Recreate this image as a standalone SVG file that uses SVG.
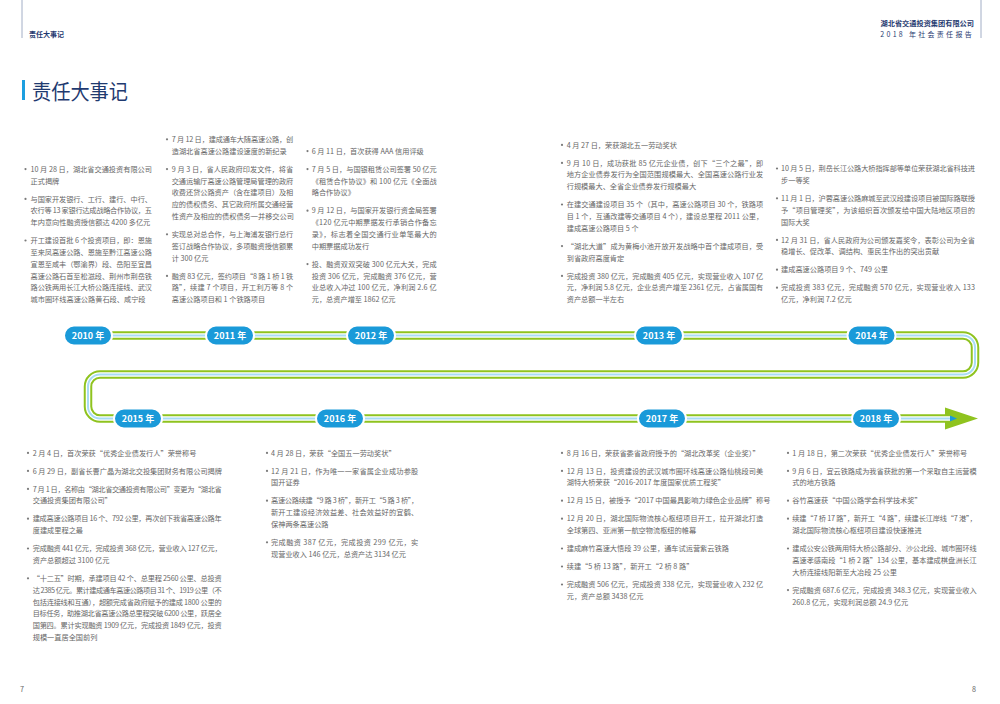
<svg xmlns="http://www.w3.org/2000/svg" xmlns:xlink="http://www.w3.org/1999/xlink" width="1000" height="704" viewBox="0 0 1000 704">
<style>
.t{font-family:"Noto Sans CJK SC","Noto Sans",sans-serif;font-size:7.2px;fill:#666}
.d{fill:#7a7a7a}
.pill{fill:#1a9ad9;stroke:#fff;stroke-width:2}
.pt{font-family:"Noto Sans CJK SC","Noto Sans",sans-serif;font-size:9px;font-weight:700;fill:#fff;text-anchor:middle}
.hd{font-family:"Noto Sans CJK SC","Noto Sans",sans-serif;fill:#1f3a70}
.rg{fill:none;stroke:#8fc31f;stroke-width:8.5}
.rw{fill:none;stroke:#fff;stroke-width:4.5}
.rb{fill:none;stroke:#a8dcf4;stroke-width:2}
</style>
<rect width="1000" height="704" fill="#fff"/>
<g id="header">
<line x1="22" y1="0" x2="22" y2="38" stroke="#8a9bb8" stroke-width="0.8"/>
<line x1="981" y1="0" x2="981" y2="38" stroke="#8a9bb8" stroke-width="0.8"/>
<text class="hd" x="29" y="36.5" font-size="7" font-weight="700" textLength="35" lengthAdjust="spacingAndGlyphs">责任大事记</text>
<text class="hd" x="974" y="26" font-size="7.2" font-weight="700" text-anchor="end">湖北省交通投资集团有限公司</text>
<text class="hd" x="974" y="36.5" font-size="7" text-anchor="end" letter-spacing="2.3">2018 年社会责任报告</text>
<rect x="22" y="80" width="3" height="20" fill="#1d9fe0"/>
<text class="hd" x="32" y="98.5" font-size="21" textLength="96" lengthAdjust="spacingAndGlyphs">责任大事记</text>
<text class="t" x="20" y="692" font-size="7" fill="#888">7</text>
<text class="t" x="972" y="692" font-size="7" fill="#888">8</text>
</g>
<g id="connectors">
<path class="rg" d="M95 335.5H963A12 12 0 0 1 975 347.5V362.5A12 12 0 0 1 963 374.5H100A12 12 0 0 0 88 386.5V406.5A12 12 0 0 0 100 418.5H948"/>
<polygon points="945,407.5 978,418.5 945,429.5" fill="#8fc31f"/>
<path class="rw" d="M95 335.5H963A12 12 0 0 1 975 347.5V362.5A12 12 0 0 1 963 374.5H100A12 12 0 0 0 88 386.5V406.5A12 12 0 0 0 100 418.5H950"/>
<path class="rb" d="M95 335.5H963A12 12 0 0 1 975 347.5V362.5A12 12 0 0 1 963 374.5H100A12 12 0 0 0 88 386.5V406.5A12 12 0 0 0 100 418.5H950"/>
<polygon points="950,415.5 957,418.5 950,421.5" fill="#1a9ad9"/>
</g>
<g id="y2010">
<rect class="pill" x="64" y="325.5" width="48" height="20" rx="10"/>
<text class="pt" x="88" y="338.7">2010 年</text>
<circle class="d" cx="25.5" cy="169.1" r="1.1"/><circle class="d" cx="25.5" cy="198.9" r="1.1"/><circle class="d" cx="25.5" cy="240.5" r="1.1"/>
<text class="t" x="30.5" y="171.7" textLength="121.5" lengthAdjust="spacing">10 月 28 日，湖北省交通投资有限公司</text>
<text class="t" x="30.5" y="183.5">正式揭牌</text>
<text class="t" x="30.5" y="201.5" textLength="121.5" lengthAdjust="spacing">与国家开发银行、工行、建行、中行、</text>
<text class="t" x="30.5" y="213.3" textLength="121.5" lengthAdjust="spacing">农行等 13 家银行达成战略合作协议，五</text>
<text class="t" x="30.5" y="225.1">年内意向性融资授信额达 4200 多亿元</text>
<text class="t" x="30.5" y="243.1" textLength="121.5" lengthAdjust="spacing">开工建设首批 6 个投资项目，即：恩施</text>
<text class="t" x="30.5" y="254.9" textLength="121.5" lengthAdjust="spacing">至来凤高速公路、恩施至黔江高速公路</text>
<text class="t" x="30.5" y="266.7" textLength="121.5" lengthAdjust="spacing">宣恩至咸丰（鄂渝界）段、岳阳至宜昌</text>
<text class="t" x="30.5" y="278.5" textLength="121.5" lengthAdjust="spacing">高速公路石首至松滋段、荆州市荆岳铁</text>
<text class="t" x="30.5" y="290.3" textLength="121.5" lengthAdjust="spacing">路公铁两用长江大桥公路连接线、武汉</text>
<text class="t" x="30.5" y="302.1">城市圈环线高速公路黄石段、咸宁段</text>
</g>
<g id="y2011">
<rect class="pill" x="206" y="325.5" width="48" height="20" rx="10"/>
<text class="pt" x="230" y="338.7">2011 年</text>
<circle class="d" cx="167" cy="139.3" r="1.1"/><circle class="d" cx="167" cy="169.1" r="1.1"/><circle class="d" cx="167" cy="234.3" r="1.1"/><circle class="d" cx="167" cy="275.9" r="1.1"/>
<text class="t" x="171.7" y="141.9" textLength="121.6" lengthAdjust="spacing">7 月 12 日，建成通车大随高速公路，创</text>
<text class="t" x="171.7" y="153.7">造湖北省高速公路建设速度的新纪录</text>
<text class="t" x="171.7" y="171.7" textLength="121.6" lengthAdjust="spacing">9 月 3 日，省人民政府印发文件，将省</text>
<text class="t" x="171.7" y="183.5" textLength="121.6" lengthAdjust="spacing">交通运输厅高速公路管理局管理的政府</text>
<text class="t" x="171.7" y="195.3" textLength="121.6" lengthAdjust="spacing">收费还贷公路资产（含在建项目）及相</text>
<text class="t" x="171.7" y="207.1" textLength="121.6" lengthAdjust="spacing">应的债权债务、其它政府所属交通经营</text>
<text class="t" x="171.7" y="218.9">性资产及相应的债权债务一并移交公司</text>
<text class="t" x="171.7" y="236.9" textLength="121.6" lengthAdjust="spacing">实现总对总合作，与上海浦发银行总行</text>
<text class="t" x="171.7" y="248.7" textLength="121.6" lengthAdjust="spacing">签订战略合作协议，多项融资授信额累</text>
<text class="t" x="171.7" y="260.5">计 300 亿元</text>
<text class="t" x="171.7" y="278.5" textLength="121.6" lengthAdjust="spacing">融资 83 亿元，签约项目“8 路 1 桥 1 铁</text>
<text class="t" x="171.7" y="290.3" textLength="121.6" lengthAdjust="spacing">路”，续建 7 个项目，开工利万等 8 个</text>
<text class="t" x="171.7" y="302.1">高速公路项目和 1 个铁路项目</text>
</g>
<g id="y2012">
<rect class="pill" x="347" y="325.5" width="48" height="20" rx="10"/>
<text class="pt" x="371" y="338.7">2012 年</text>
<circle class="d" cx="307.5" cy="151.1" r="1.1"/><circle class="d" cx="307.5" cy="169.1" r="1.1"/><circle class="d" cx="307.5" cy="210.7" r="1.1"/><circle class="d" cx="307.5" cy="264.1" r="1.1"/>
<text class="t" x="311.7" y="153.7">6 月 11 日，首次获得 AAA 信用评级</text>
<text class="t" x="311.7" y="171.7" textLength="125" lengthAdjust="spacing">7 月 5 日，与国银租赁公司签署 50 亿元</text>
<text class="t" x="311.7" y="183.5" textLength="125" lengthAdjust="spacing">《租赁合作协议》和 100 亿元《全面战</text>
<text class="t" x="311.7" y="195.3">略合作协议》</text>
<text class="t" x="311.7" y="213.3" textLength="125" lengthAdjust="spacing">9 月 12 日，与国家开发银行资金局签署</text>
<text class="t" x="311.7" y="225.1" textLength="125" lengthAdjust="spacing">《120 亿元中期票据发行承销合作备忘</text>
<text class="t" x="311.7" y="236.9" textLength="125" lengthAdjust="spacing">录》，标志着全国交通行业单笔最大的</text>
<text class="t" x="311.7" y="248.7">中期票据成功发行</text>
<text class="t" x="311.7" y="266.7" textLength="125" lengthAdjust="spacing">投、融资双双突破 300 亿元大关，完成</text>
<text class="t" x="311.7" y="278.5" textLength="125" lengthAdjust="spacing">投资 306 亿元，完成融资 376 亿元，营</text>
<text class="t" x="311.7" y="290.3" textLength="125" lengthAdjust="spacing">业总收入冲过 100 亿元，净利润 2.6 亿</text>
<text class="t" x="311.7" y="302.1">元，总资产增至 1862 亿元</text>
</g>
<g id="y2013">
<rect class="pill" x="635" y="325.5" width="48" height="20" rx="10"/>
<text class="pt" x="659" y="338.7">2013 年</text>
<circle class="d" cx="562" cy="144.9" r="1.1"/><circle class="d" cx="562" cy="162.9" r="1.1"/><circle class="d" cx="562" cy="204.5" r="1.1"/><circle class="d" cx="562" cy="246.1" r="1.1"/><circle class="d" cx="562" cy="275.9" r="1.1"/>
<text class="t" x="566.7" y="147.5">4 月 27 日，荣获湖北五一劳动奖状</text>
<text class="t" x="566.7" y="165.5" textLength="196.6" lengthAdjust="spacing">9 月 10 日，成功获批 85 亿元企业债，创下“三个之最”，即</text>
<text class="t" x="566.7" y="177.3" textLength="196.6" lengthAdjust="spacing">地方企业债券发行为全国范围规模最大、全国高速公路行业发</text>
<text class="t" x="566.7" y="189.1">行规模最大、全省企业债券发行规模最大</text>
<text class="t" x="566.7" y="207.1" textLength="196.6" lengthAdjust="spacing">在建交通建设项目 35 个（其中，高速公路项目 30 个，铁路项</text>
<text class="t" x="566.7" y="218.9" textLength="196.6" lengthAdjust="spacing">目 1 个，互通改建等交通项目 4 个），建设总里程 2011 公里，</text>
<text class="t" x="566.7" y="230.7">建成高速公路项目 5 个</text>
<text class="t" x="566.7" y="248.7" textLength="196.6" lengthAdjust="spacing">“湖北大道”成为黄梅小池开放开发战略中首个建成项目，受</text>
<text class="t" x="566.7" y="260.5">到省政府高度肯定</text>
<text class="t" x="566.7" y="278.5" textLength="196.6" lengthAdjust="spacing">完成投资 380 亿元，完成融资 405 亿元，实现营业收入 107 亿</text>
<text class="t" x="566.7" y="290.3" textLength="196.6" lengthAdjust="spacing">元，净利润 5.8 亿元，企业总资产增至 2361 亿元，占省属国有</text>
<text class="t" x="566.7" y="302.1">资产总额一半左右</text>
</g>
<g id="y2014">
<rect class="pill" x="847.5" y="325.5" width="48" height="20" rx="10"/>
<text class="pt" x="871.5" y="338.7">2014 年</text>
<circle class="d" cx="777" cy="168.5" r="1.1"/><circle class="d" cx="777" cy="198.3" r="1.1"/><circle class="d" cx="777" cy="239.9" r="1.1"/><circle class="d" cx="777" cy="269.7" r="1.1"/><circle class="d" cx="777" cy="287.7" r="1.1"/>
<text class="t" x="781" y="171.1" textLength="194" lengthAdjust="spacing">10 月 5 日，荆岳长江公路大桥指挥部等单位荣获湖北省科技进</text>
<text class="t" x="781" y="182.9">步一等奖</text>
<text class="t" x="781" y="200.9" textLength="194" lengthAdjust="spacing">11 月 1 日，沪蓉高速公路麻城至武汉段建设项目被国际路联授</text>
<text class="t" x="781" y="212.7" textLength="194" lengthAdjust="spacing">予“项目管理奖”，为该组织首次颁发给中国大陆地区项目的</text>
<text class="t" x="781" y="224.5">国际大奖</text>
<text class="t" x="781" y="242.5" textLength="194" lengthAdjust="spacing">12 月 31 日，省人民政府为公司颁发嘉奖令，表彰公司为全省</text>
<text class="t" x="781" y="254.3">稳增长、促改革、调结构、惠民生作出的突出贡献</text>
<text class="t" x="781" y="272.3">建成高速公路项目 9 个、749 公里</text>
<text class="t" x="781" y="290.3" textLength="194" lengthAdjust="spacing">完成投资 383 亿元，完成融资 570 亿元，实现营业收入 133</text>
<text class="t" x="781" y="302.1">亿元，净利润 7.2 亿元</text>
</g>
<g id="y2015">
<rect class="pill" x="114" y="408.5" width="48" height="20" rx="10"/>
<text class="pt" x="138" y="421.7">2015 年</text>
<circle class="d" cx="28" cy="452.9" r="1.1"/><circle class="d" cx="28" cy="470.9" r="1.1"/><circle class="d" cx="28" cy="488.9" r="1.1"/><circle class="d" cx="28" cy="518.7" r="1.1"/><circle class="d" cx="28" cy="548.5" r="1.1"/><circle class="d" cx="28" cy="578.3" r="1.1"/>
<text class="t" x="32.7" y="455.5">2 月 4 日，首次荣获“优秀企业债发行人”荣誉称号</text>
<text class="t" x="32.7" y="473.5">6 月 29 日，副省长曹广晶为湖北交投集团财务有限公司揭牌</text>
<text class="t" x="32.7" y="491.5" textLength="189" lengthAdjust="spacing">7 月 1 日，名称由“湖北省交通投资有限公司”变更为“湖北省</text>
<text class="t" x="32.7" y="503.3">交通投资集团有限公司”</text>
<text class="t" x="32.7" y="521.3" textLength="189" lengthAdjust="spacing">建成高速公路项目 16 个、792 公里，再次创下我省高速公路年</text>
<text class="t" x="32.7" y="533.1">度建成里程之最</text>
<text class="t" x="32.7" y="551.1" textLength="189" lengthAdjust="spacing">完成融资 441 亿元，完成投资 368 亿元，营业收入 127 亿元，</text>
<text class="t" x="32.7" y="562.9">资产总额超过 3100 亿元</text>
<text class="t" x="32.7" y="580.9" textLength="189" lengthAdjust="spacing">“十二五”时期，承建项目 42 个、总里程 2560 公里、总投资</text>
<text class="t" x="32.7" y="592.7" textLength="189" lengthAdjust="spacing">达 2385 亿元。累计建成通车高速公路项目 31 个、1919 公里（不</text>
<text class="t" x="32.7" y="604.5" textLength="189" lengthAdjust="spacing">包括连接线和互通），超额完成省政府赋予的建成 1800 公里的</text>
<text class="t" x="32.7" y="616.3" textLength="189" lengthAdjust="spacing">目标任务，助推湖北省高速公路总里程突破 6200 公里，跃居全</text>
<text class="t" x="32.7" y="628.1" textLength="189" lengthAdjust="spacing">国第四。累计实现融资 1909 亿元，完成投资 1849 亿元，投资</text>
<text class="t" x="32.7" y="639.9">规模一直居全国前列</text>
</g>
<g id="y2016">
<rect class="pill" x="316" y="408.5" width="48" height="20" rx="10"/>
<text class="pt" x="340" y="421.7">2016 年</text>
<circle class="d" cx="267" cy="452.9" r="1.1"/><circle class="d" cx="267" cy="470.9" r="1.1"/><circle class="d" cx="267" cy="500.7" r="1.1"/><circle class="d" cx="267" cy="542.3" r="1.1"/>
<text class="t" x="271" y="455.5">4 月 28 日，荣获“全国五一劳动奖状”</text>
<text class="t" x="271" y="473.5" textLength="147.3" lengthAdjust="spacing">12 月 21 日，作为唯一一家省属企业成功参股</text>
<text class="t" x="271" y="485.3">国开证券</text>
<text class="t" x="271" y="503.3" textLength="147.3" lengthAdjust="spacing">高速公路续建“9 路 3 桥”，新开工“5 路 3 桥”，</text>
<text class="t" x="271" y="515.1" textLength="147.3" lengthAdjust="spacing">新开工建设经济效益差、社会效益好的宜鹤、</text>
<text class="t" x="271" y="526.9">保神两条高速公路</text>
<text class="t" x="271" y="544.9" textLength="147.3" lengthAdjust="spacing">完成融资 387 亿元，完成投资 299 亿元，实</text>
<text class="t" x="271" y="556.7">现营业收入 146 亿元，总资产达 3134 亿元</text>
</g>
<g id="y2017">
<rect class="pill" x="638" y="408.5" width="48" height="20" rx="10"/>
<text class="pt" x="662" y="421.7">2017 年</text>
<circle class="d" cx="562" cy="452.9" r="1.1"/><circle class="d" cx="562" cy="470.9" r="1.1"/><circle class="d" cx="562" cy="500.7" r="1.1"/><circle class="d" cx="562" cy="518.7" r="1.1"/><circle class="d" cx="562" cy="548.5" r="1.1"/><circle class="d" cx="562" cy="566.5" r="1.1"/><circle class="d" cx="562" cy="584.5" r="1.1"/>
<text class="t" x="566.7" y="455.5">8 月 16 日，荣获省委省政府授予的“湖北改革奖（企业奖）”</text>
<text class="t" x="566.7" y="473.5" textLength="196.6" lengthAdjust="spacing">12 月 13 日，投资建设的武汉城市圈环线高速公路仙桃段司美</text>
<text class="t" x="566.7" y="485.3">湖特大桥荣获“2016-2017 年度国家优质工程奖”</text>
<text class="t" x="566.7" y="503.3">12 月 15 日，被授予“2017 中国最具影响力绿色企业品牌”称号</text>
<text class="t" x="566.7" y="521.3" textLength="196.6" lengthAdjust="spacing">12 月 20 日，湖北国际物流核心枢纽项目开工，拉开湖北打造</text>
<text class="t" x="566.7" y="533.1">全球第四、亚洲第一航空物流枢纽的帷幕</text>
<text class="t" x="566.7" y="551.1">建成麻竹高速大悟段 39 公里，通车试运营紫云铁路</text>
<text class="t" x="566.7" y="569.1">续建“5 桥 13 路”，新开工“2 桥 8 路”</text>
<text class="t" x="566.7" y="587.1" textLength="196.6" lengthAdjust="spacing">完成融资 506 亿元，完成投资 338 亿元，实现营业收入 232 亿</text>
<text class="t" x="566.7" y="598.9">元，资产总额 3438 亿元</text>
</g>
<g id="y2018">
<rect class="pill" x="852" y="408.5" width="48" height="20" rx="10"/>
<text class="pt" x="876" y="421.7">2018 年</text>
<circle class="d" cx="788" cy="452.9" r="1.1"/><circle class="d" cx="788" cy="470.9" r="1.1"/><circle class="d" cx="788" cy="500.7" r="1.1"/><circle class="d" cx="788" cy="518.7" r="1.1"/><circle class="d" cx="788" cy="548.5" r="1.1"/><circle class="d" cx="788" cy="590.1" r="1.1"/>
<text class="t" x="792.3" y="455.5">1 月 18 日，第二次荣获“优秀企业债发行人”荣誉称号</text>
<text class="t" x="792.3" y="473.5" textLength="184.4" lengthAdjust="spacing">9 月 6 日，宜云铁路成为我省获批的第一个采取自主运营模</text>
<text class="t" x="792.3" y="485.3">式的地方铁路</text>
<text class="t" x="792.3" y="503.3">谷竹高速获“中国公路学会科学技术奖”</text>
<text class="t" x="792.3" y="521.3" textLength="184.4" lengthAdjust="spacing">续建“7 桥 17 路”，新开工“4 路”，续建长江岸线“7 港”，</text>
<text class="t" x="792.3" y="533.1">湖北国际物流核心枢纽项目建设快速推进</text>
<text class="t" x="792.3" y="551.1" textLength="184.4" lengthAdjust="spacing">建成公安公铁两用特大桥公路部分、沙公北段、城市圈环线</text>
<text class="t" x="792.3" y="562.9" textLength="184.4" lengthAdjust="spacing">高速孝感南段“1 桥 2 路”134 公里，基本建成棋盘洲长江</text>
<text class="t" x="792.3" y="574.7">大桥连接线阳新至大冶段 25 公里</text>
<text class="t" x="792.3" y="592.7" textLength="184.4" lengthAdjust="spacing">完成融资 687.6 亿元，完成投资 348.3 亿元，实现营业收入</text>
<text class="t" x="792.3" y="604.5">260.8 亿元，实现利润总额 24.9 亿元</text>
</g>
</svg>
